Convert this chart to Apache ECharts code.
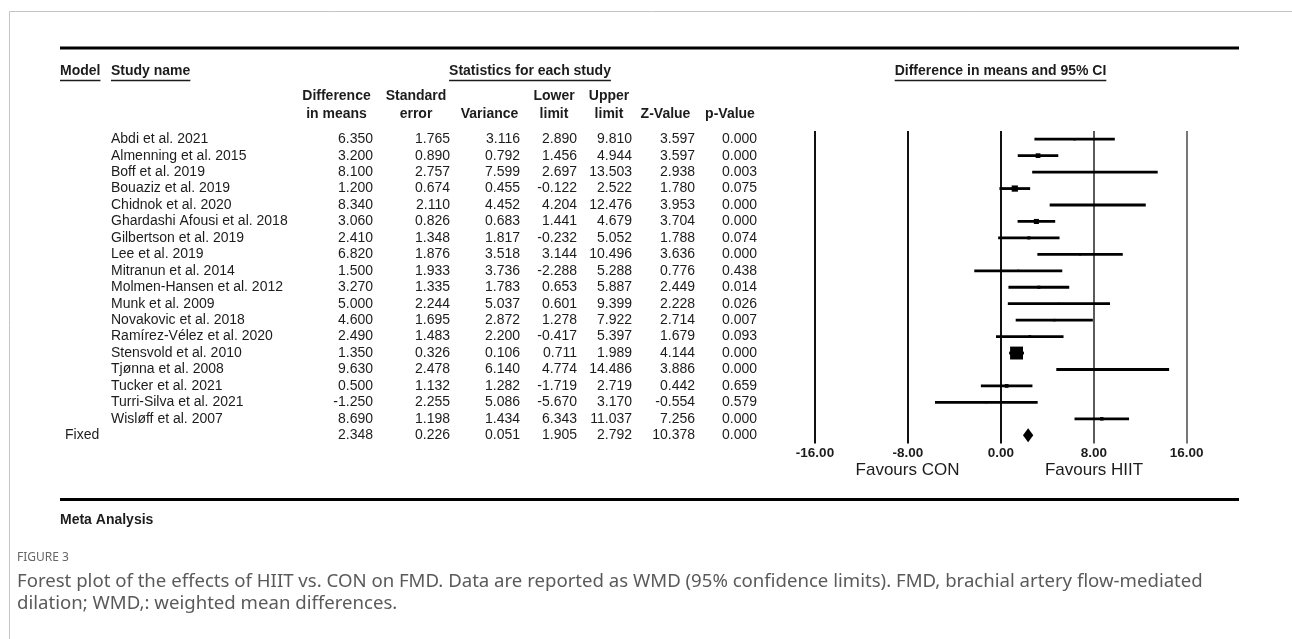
<!DOCTYPE html>
<html><head><meta charset="utf-8">
<script src="https://cdn.jsdelivr.net/npm/echarts@6/dist/echarts.min.js"></script>
<style>html,body{margin:0;padding:0;background:#fff;}#c{width:1292px;height:639px;}</style>
</head><body><div id="c"></div>
<script>
// ---------- data ----------
const studyNames = ['Abdi et al. 2021','Almenning et al. 2015','Boff et al. 2019','Bouaziz et al. 2019','Chidnok et al. 2020','Ghardashi Afousi et al. 2018','Gilbertson et al. 2019','Lee et al. 2019','Mitranun et al. 2014','Molmen-Hansen et al. 2012','Munk et al. 2009','Novakovic et al. 2018','Ramírez-Vélez et al. 2020','Stensvold et al. 2010','Tjønna et al. 2008','Tucker et al. 2021','Turri-Silva et al. 2021','Wisløff et al. 2007',''];
const modelLabels = ['','','','','','','','','','','','','','','','','','','Fixed'];
const diffMeans  = [6.350,3.200,8.100,1.200,8.340,3.060,2.410,6.820,1.500,3.270,5.000,4.600,2.490,1.350,9.630,0.500,-1.250,8.690,2.348];
const stdError   = [1.765,0.890,2.757,0.674,2.110,0.826,1.348,1.876,1.933,1.335,2.244,1.695,1.483,0.326,2.478,1.132,2.255,1.198,0.226];
const variance   = [3.116,0.792,7.599,0.455,4.452,0.683,1.817,3.518,3.736,1.783,5.037,2.872,2.200,0.106,6.140,1.282,5.086,1.434,0.051];
const lowerLimit = [2.890,1.456,2.697,-0.122,4.204,1.441,-0.232,3.144,-2.288,0.653,0.601,1.278,-0.417,0.711,4.774,-1.719,-5.670,6.343,1.905];
const upperLimit = [9.810,4.944,13.503,2.522,12.476,4.679,5.052,10.496,5.288,5.887,9.399,7.922,5.397,1.989,14.486,2.719,3.170,11.037,2.792];
const zValue     = [3.597,3.597,2.938,1.780,3.953,3.704,1.788,3.636,0.776,2.449,2.228,2.714,1.679,4.144,3.886,0.442,-0.554,7.256,10.378];
const pValue     = [0.000,0.000,0.003,0.075,0.000,0.000,0.074,0.000,0.438,0.014,0.026,0.007,0.093,0.000,0.000,0.659,0.579,0.000,0.000];
const pooledRow = 18;
const xTicks = [-16, -8, 0, 8, 16];
const colHeaderTop = ['Difference','Standard','','Lower','Upper','',''];
const colHeaderBottom = ['in means','error','Variance','limit','limit','Z-Value','p-Value'];
const favourLabels = ['Favours CON','Favours HIIT'];
const captionLines = ['Forest plot of the effects of HIIT vs. CON on FMD. Data are reported as WMD (95% confidence limits). FMD, brachial artery flow-mediated','dilation; WMD,: weighted mean differences.'];

// ---------- layout ----------
const FONT = '"Liberation Sans", Arial, sans-serif';
const TXT = '#1c1c1c';
const gridLeft = 815, gridRight = 105.3, gridTop = 131, gridBottom = 195.5;
const colRight = [373, 450, 520, 577, 632, 695, 757];
const colCenter = [336.5, 416, 489.5, 554, 609, 665.5, 730];
const columns = [diffMeans, stdError, variance, lowerLimit, upperLimit, zValue, pValue];
const rowIdx = diffMeans.map((_, i) => String(i));

const ctx = document.createElement('canvas').getContext('2d');
function textW(t, font){ ctx.font = font; return ctx.measureText(t).width; }

const yAxes = [{
  type:'category', data: rowIdx, inverse:true, gridIndex:0,
  axisLine:{show:false}, axisTick:{show:false}, axisLabel:{show:false}, splitLine:{show:false}
}];
function labelAxis(offset, align, fmt){
  return {type:'category', data: rowIdx, inverse:true, gridIndex:0, position:'left', offset: offset,
    axisLine:{show:false}, axisTick:{show:false}, splitLine:{show:false},
    axisLabel:{show:true, interval:0, margin:0, align:align, formatter:fmt,
      fontFamily:FONT, fontSize:14, color:TXT}};
}
yAxes.push(labelAxis(gridLeft - 65, 'left', (v, i) => modelLabels[i]));
yAxes.push(labelAxis(gridLeft - 111, 'left', (v, i) => studyNames[i]));
columns.forEach((arr, c) => {
  yAxes.push(labelAxis(gridLeft - colRight[c], 'right', (v, i) => arr[i].toFixed(3)));
});

const graphics = [];
graphics.push({type:'rect', shape:{x:9.5, y:11.5, width:1400, height:800}, style:{fill:null, stroke:'#c4c4c4', lineWidth:1}, silent:true});
graphics.push({type:'line', shape:{x1:60, y1:48, x2:1239, y2:48}, style:{stroke:'#000', lineWidth:3}});
graphics.push({type:'line', shape:{x1:60, y1:499.5, x2:1239, y2:499.5}, style:{stroke:'#000', lineWidth:3}});
const BOLD = 'bold 14px ' + FONT;
function ulText(t, x, y, align){
  const w = textW(t, BOLD);
  const x0 = align === 'center' ? x - w/2 : x;
  graphics.push({type:'text', style:{text:t, x:x, y:y, font:BOLD, fill:TXT, textAlign:align, textVerticalAlign:'middle'}});
  graphics.push({type:'line', shape:{x1:x0, y1:y+9, x2:x0+w, y2:y+9}, style:{stroke:TXT, lineWidth:1.5}});
}
ulText('Model', 60, 71.5, 'left');
ulText('Study name', 111, 71.5, 'left');
ulText('Statistics for each study', 530, 71.5, 'center');
ulText('Difference in means and 95% CI', 1000.5, 71.5, 'center');
colCenter.forEach((cx, c) => {
  if (colHeaderTop[c]) graphics.push({type:'text', style:{text:colHeaderTop[c], x:cx, y:96.5, font:BOLD, fill:TXT, textAlign:'center', textVerticalAlign:'middle'}});
  graphics.push({type:'text', style:{text:colHeaderBottom[c], x:cx, y:114, font:BOLD, fill:TXT, textAlign:'center', textVerticalAlign:'middle'}});
});
[907.5, 1094].forEach((cx, k) => {
  graphics.push({type:'text', style:{text:favourLabels[k], x:cx, y:470, font:'17px ' + FONT, fill:TXT, textAlign:'center', textVerticalAlign:'middle'}});
});
graphics.push({type:'text', style:{text:'Meta Analysis', x:60, y:520, font:BOLD, fill:TXT, textAlign:'left', textVerticalAlign:'middle'}});
graphics.push({type:'text', style:{text:'FIGURE 3', x:17, y:558, font:'12px "Noto Sans", sans-serif', fill:'#666', textAlign:'left', textVerticalAlign:'middle'}});
captionLines.forEach((t, k) => {
  graphics.push({type:'text', style:{text:t, x:17, y:582 + k*22, font:'18.6px "Noto Sans", sans-serif', fill:'#5a5a5a', textAlign:'left', textVerticalAlign:'middle'}});
});

function renderItem(params, api){
  const i = api.value(0);
  const mid = api.coord([api.value(1), i]);
  const lo = api.coord([api.value(2), i]);
  const hi = api.coord([api.value(3), i]);
  if (i === pooledRow) {
    const h = 7;
    return {type:'polygon', shape:{points:[[lo[0], mid[1]], [mid[0], mid[1]-h], [hi[0], mid[1]], [mid[0], mid[1]+h]]}, style:{fill:'#000'}};
  }
  const s = 4.2 * Math.sqrt(1 / api.value(4));
  return {type:'group', children:[
    {type:'line', shape:{x1:lo[0], y1:lo[1], x2:hi[0], y2:hi[1]}, style:{stroke:'#000', lineWidth:2.8}},
    {type:'rect', shape:{x:mid[0]-s/2, y:mid[1]-s/2, width:s, height:s}, style:{fill:'#000'}}
  ]};
}

const chart = echarts.init(document.getElementById('c'), null, {renderer:'canvas'});
chart.setOption({
  animation:false,
  backgroundColor:'#fff',
  grid:{left:gridLeft, right:gridRight, top:gridTop, bottom:gridBottom, containLabel:false, outerBoundsMode:'none'},
  xAxis:{type:'value', min:xTicks[0], max:xTicks[xTicks.length-1], interval:xTicks[1]-xTicks[0],
    axisLine:{show:false}, axisTick:{show:false},
    splitLine:{show:true, showMinLine:true, showMaxLine:true, lineStyle:{color:['#111','#111','#111','#5a5a5a','#777'], width:2}},
    axisLabel:{formatter:v => v.toFixed(2), fontFamily:FONT, fontSize:13.5, fontWeight:'bold', color:TXT, margin:3}},
  yAxis: yAxes,
  series:[{type:'custom', renderItem:renderItem, xAxisIndex:0, yAxisIndex:0,
    encode:{x:[1,2,3], y:0},
    data: diffMeans.map((m, i) => [i, m, lowerLimit[i], upperLimit[i], variance[i]])}],
  graphic: graphics
});
</script></body></html>
